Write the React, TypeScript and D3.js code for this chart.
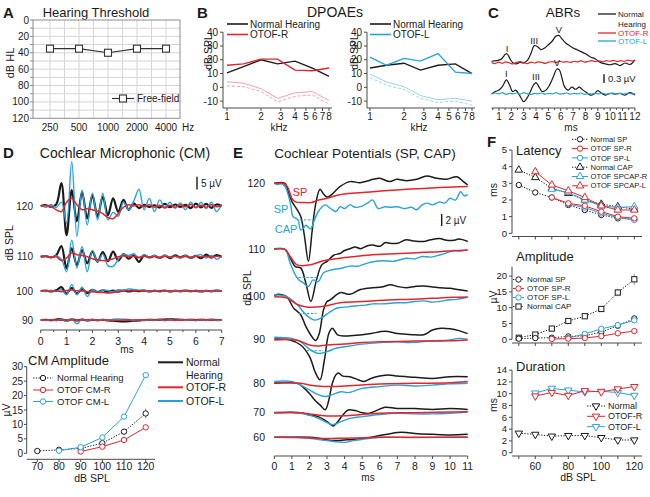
import React from 'react';
import * as d3 from 'd3';

const FONT = "'Liberation Sans', Arial, Helvetica, sans-serif";
const RED = '#e4252c';
const BLUE = '#28a3da';
const LRED = '#f3a3a6';
const LBLUE = '#98d3ef';
const INK = '#1b1b1b';
const AXC = '#4a4a4a';

// ---------------- Panel A: hearing threshold
const A_FREQS = ['250', '500', '1000', '2000', '4000'];
const A_THRESH = [35, 35, 40, 35, 35];
const A_YTICKS = [0, 20, 40, 60, 80, 100, 120];

// ---------------- Panel B: DPOAEs
const B_FREQS = [1, 1.4, 2, 2.8, 4, 5.7, 8];
const B_XTICKS = [1, 2, 3, 4, 5, 6, 7, 8];
const B_YTICKS = [-10, 0, 10, 20, 30, 40];
const B_NORMAL_R = [10.5, 15, 20, 17, 19, 14, 8];
const B_OTOF_R = [16, 17, 20.5, 20.5, 12.5, 12, 14];
const B_NOISE_R = [4, 3, -1, -8, -4, -3, -9.5];
const B_NOISE2_R = [1, 0.5, -3, -10.5, -6.5, -5.5, -12];
const B_NORMAL_L = [14, 16, 17.5, 12.5, 16, 17, 10];
const B_OTOF_L = [22, 16, 21, 19, 24.5, 11, 10];
const B_NOISE_L = [9.5, 4, 0.5, -6, -9, -8, -10];
const B_NOISE2_L = [7, 1.5, -1.5, -8, -11, -10, -13];

// ---------------- Panel C: ABRs (µV)
const ABR_XTICKS = d3.range(1, 13);
const ABR_T_TOP = [0.4, 0.8, 1.2, 1.5, 1.65, 1.9, 2.1, 2.4, 2.7, 3.0, 3.3, 3.6, 3.85, 4.1, 4.4, 4.7, 5.0, 5.3, 5.6, 5.85, 6.1, 6.4, 6.7, 7.0, 7.3, 7.6, 8.0, 8.4, 8.8, 9.2, 9.6, 10.0, 10.4, 10.8, 11.2, 11.6, 12];
const ABR_NORMAL_TOP = [0.06, 0.08, 0.14, 0.29, 0.32, 0.14, 0.02, -0.03, 0.02, 0, 0.09, 0.34, 0.6, 0.57, 0.46, 0.52, 0.63, 0.75, 0.92, 0.95, 0.83, 0.69, 0.6, 0.52, 0.46, 0.4, 0.32, 0.21, 0.14, 0.02, -0.03, -0.06, -0.02, -0.09, 0, -0.05, 0.11];
const ABR_T_BOT = [0.4, 0.7, 1.0, 1.3, 1.6, 1.85, 2.1, 2.35, 2.6, 2.8, 3.0, 3.2, 3.5, 3.8, 4.0, 4.2, 4.5, 4.8, 5.1, 5.4, 5.7, 5.9, 6.1, 6.3, 6.6, 6.9, 7.2, 7.5, 7.8, 8.1, 8.4, 8.7, 9.0, 9.3, 9.6, 10, 10.4, 10.8, 11.2, 11.6, 12];
const ABR_NORMAL_BOT = [-0.02, 0.06, 0.11, 0.25, 0.46, 0.29, 0.06, 0.11, -0.02, -0.17, -0.29, -0.21, 0.02, 0.29, 0.37, 0.25, 0.06, 0.11, 0.29, 0.57, 0.84, 0.8, 0.52, 0.23, 0.11, 0.21, 0.14, 0.21, 0.11, 0.02, -0.06, -0.02, 0.09, 0, -0.06, 0, -0.03, 0, -0.06, 0.02, -0.06];
const ABR_T_NOISE = d3.range(0.4, 12.0001, 0.29);
const ABR_OTOF_R = [0.02, -0.02, 0.03, -0.01, 0.04, 0, -0.03, 0.02, 0.05, 0.01, -0.02, 0.03, 0, 0.04, 0.02, -0.01, 0.03, 0.05, 0.02, 0.06, 0.03, 0.05, 0.02, 0.06, 0.04, 0.07, 0.03, 0.06, 0.08, 0.05, 0.07, 0.04, 0.08, 0.06, 0.09, 0.05, 0.08, 0.06, 0.1, 0.07, 0.09];
const ABR_OTOF_L = [-0.03, 0.01, -0.02, 0.02, -0.04, 0, -0.02, 0.01, -0.03, 0.02, -0.01, -0.04, 0, -0.02, 0.01, -0.03, 0, -0.02, 0.02, -0.03, -0.01, 0.01, -0.03, 0, -0.02, 0.01, -0.04, -0.01, -0.03, 0, -0.02, 0.01, -0.03, -0.01, 0.01, -0.02, 0, -0.03, 0.01, -0.02, 0];
const ABR_PEAKS = ['I', 'III', 'V'];
const ABR_PEAK_T_TOP = [1.65, 3.85, 5.85];
const ABR_PEAK_V_TOP = [0.32, 0.6, 0.95];
const ABR_PEAK_T_BOT = [1.6, 4.0, 5.7];
const ABR_PEAK_V_BOT = [0.46, 0.37, 0.84];

// ---------------- Panel D: cochlear microphonic (µV, sampled every 0.2 ms)
const CM_T = d3.range(0, 7.0001, 0.2);
const CM_XTICKS = d3.range(0, 8);
const CM_LEVELS = [120, 110, 100, 90];
const CM120_N = [0, 0.3, -0.3, 0.6, 9, -11.5, 6.3, -6, 5.5, -4.9, 4.3, -4.2, 3.7, -3.6, 3, -2.3, 2.4, -1.5, 1, -0.8, 0.5, -0.4, 0.3, -0.6, 0.8, -0.5, 0.6, -0.4, 0.5, -0.8, 0.9, -0.6, 0.8, -0.7, 0.6, 0];
const CM120_R = [0, 0.2, -0.2, -1.5, -2.2, 1.5, 3, 0.5, -1.5, -1, -1.5, -2, -3, -4.5, -5, -3, -0.5, 0.5, 0, 0.5, -0.3, 0.5, -0.5, 0.3, -0.8, 0.3, -0.5, 0.5, -0.3, 0.6, -0.5, 0.3, -0.5, 0.5, -0.3, 0.3];
const CM120_L = [0.3, -0.5, 0.6, -0.6, 1.5, -6.8, 17.5, -12, 6.3, -7.5, 5, -5.5, 5, -5.5, -2.5, -4, 1.5, -1.5, 2, 6.6, -1.5, 3, -2.2, 2.4, -0.5, 1.5, -1, 1.2, -1.5, 1.5, -0.8, 1.5, -1, 1.5, -2.2, 0.5];
const CM110_N = [0, 0.2, -0.3, 0.5, 4.2, -4.6, 3.3, -3.3, 2.6, -2.6, 2, -2, 1.8, -1.8, 2, -1.5, 1, -0.8, 0.5, -2, 0.5, -0.3, 0.3, -0.5, 0.4, -0.6, 0.5, -0.3, 0.4, -0.5, 0.3, -0.6, 0.8, -0.4, 0.6, 0];
const CM110_R = [0, 0.2, -0.2, 0, -1.5, -0.5, 1.5, 0.8, 0.5, 0, -0.8, -1.2, -1.5, -1.5, -0.8, 0, 0.3, 0, 0.2, -0.2, 0.2, -0.2, 0.1, -0.2, 0.2, -0.1, 0.2, -0.2, 0.1, -0.2, 0.2, -0.1, 0.2, -0.2, 0.2, 0];
const CM110_L = [0, 0.3, -0.3, 0.3, -1, -5.9, 6.6, -4.5, 4, -5.9, 2.5, -2, 1, -3.5, -3.8, -1, 1, 0.5, 1.2, -0.5, 0.8, -0.3, 0.6, -0.5, 0.5, -0.3, 0.2, -0.6, 0.4, -0.5, 0.3, 0.8, -0.5, 0.5, -1, 0.3];
const CM100_N = [0, 0.2, -0.2, 0.3, 1.5, -1, 1.2, -1, 0.7, -0.8, 0.5, -0.4, 0.3, -0.3, 0.2, -0.2, 0.2, -0.2, 0.1, -0.1, 0.2, -0.2, 0.1, -0.1, 0.2, -0.2, 0.1, -0.1, 0.2, -0.1, 0.1, -0.2, 0.1, -0.1, 0.2, 0];
const CM100_R = [0, 0.1, -0.1, 0, -0.3, 0.2, 0.4, 0.1, 0, -0.2, -0.3, -0.5, -0.6, -0.8, -0.6, -0.3, 0, 0.1, 0, 0.1, -0.1, 0.1, 0, -0.1, 0.1, 0, -0.1, 0.1, 0, -0.1, 0.1, 0, -0.1, 0.1, 0, 0];
const CM100_L = [0.2, -0.2, 0.3, -0.2, 0.5, -1.5, 2.5, -1.5, 1.5, -2.2, 0.5, -0.5, 0.3, 0.2, -0.3, 0.5, 0.3, 0.8, 0.6, 0.3, 0.4, -0.2, 0.3, -0.3, 0.2, -0.2, 0.3, -0.3, 0.2, -0.2, 0.3, -0.2, 0.2, -0.3, 0.3, 0];
const CM90_N = [0, 0.1, -0.1, 0.2, 0.3, -0.3, 0.3, -0.2, 0.2, -0.2, 0.1, -0.1, 0.1, -0.2, -0.3, -0.5, -0.6, -0.5, -0.3, -0.2, 0, 0.1, 0, 0.1, 0.2, 0.3, 0.2, 0.1, 0, 0.1, 0, 0.1, 0, 0.1, 0, 0];
const CM90_R = [0, 0, 0.1, 0, -0.1, 0.1, 0, -0.1, 0, 0.1, 0, -0.1, 0, 0, -0.1, -0.1, 0, 0.1, 0, 0, 0.1, 0, 0, 0.1, 0, 0, -0.1, 0, 0.1, 0, 0, 0.1, 0, 0, 0.1, 0];
const CM90_L = [0.2, -0.2, 0.2, -0.3, 0.3, -0.5, 0.5, -1.5, 0.4, -0.3, 0.3, -0.2, 0.2, -0.2, 0.3, 0.4, 0.3, 0.2, -0.2, 0.2, -0.3, 0.2, -0.2, 0.3, -0.3, 0.2, -0.2, 0.3, -0.2, 0.2, -0.3, 0.2, -0.2, 0.3, -0.2, 0];

// CM amplitude
const CMA_DB = [70, 80, 90, 100, 110, 120];
const CMA_NORMAL = [0.8, 1.2, 1.7, 3.5, 7.5, 13.8];
const CMA_NORMAL_ERR = [0, 0, 0, 0.4, 0.7, 1.8];
const CMA_R_DB = [90, 100, 110, 120];
const CMA_R = [0.6, 2.3, 4.6, 9];
const CMA_L_DB = [80, 90, 100, 110, 120];
const CMA_L = [0.9, 2.1, 5.5, 12.7, 27.1];
const CMA_YTICKS = [0, 5, 10, 15, 20, 25, 30];

// ---------------- Panel E: SP / CAP ([ms, µV])
const E_LEVELS = [120, 110, 100, 90, 80, 70, 60];
const E_XTICKS = d3.range(0, 12);
const E120_N = [[0,0],[0.6,0],[0.8,-1.5],[1.0,-3],[1.3,-4.4],[1.5,-5.5],[1.7,-8.5],[1.94,-13],[2.15,-8],[2.35,-3.5],[2.6,-1.0],[2.8,-1.8],[3.02,-2.3],[3.3,-1.8],[3.73,-0.55],[4.31,0.28],[4.88,0.1],[5.3,0.4],[5.63,0.67],[6.0,0.83],[6.58,0.28],[6.96,0.67],[7.53,0.44],[8.1,0.67],[8.67,1.2],[9.24,0.83],[9.8,0.67],[10.38,1.1],[10.76,0.28],[11,-0.28]];
const E120_R = [[0,0],[0.5,0],[0.75,-0.6],[1.0,-2.5],[1.2,-3.1],[1.6,-3.2],[2.1,-3.2],[2.5,-2.8],[3.0,-2.5],[3.7,-1.9],[4.6,-1.6],[5.6,-1.4],[6.5,-1.2],[7.5,-1.0],[8.5,-0.85],[9.4,-0.7],[10.2,-0.6],[11,-0.55]];
const E120_L = [[0,0],[0.2,-0.2],[0.4,-0.1],[0.6,-0.5],[0.8,-2],[0.95,-3.9],[1.05,-5.5],[1.2,-5.8],[1.35,-6.1],[1.5,-7.8],[1.65,-7.5],[1.8,-7.0],[2.05,-7.6],[2.3,-6],[2.5,-4.7],[2.9,-3.6],[3.2,-4.2],[3.5,-4.7],[3.75,-3.9],[4.0,-4.2],[4.3,-3.6],[4.6,-4.0],[4.9,-3.9],[5.3,-3.3],[5.6,-2.8],[5.9,-4.2],[6.3,-3.9],[6.6,-4.0],[7.0,-3.9],[7.4,-4.2],[7.8,-4.0],[8.1,-4.4],[8.4,-3.6],[8.7,-3.3],[9.0,-3.6],[9.4,-3.1],[9.7,-3.3],[10.0,-2.5],[10.3,-2.8],[10.6,-1.4],[10.8,-2.1],[11,-1.9]];
const E110_N = [[0,0.1],[0.6,0],[0.8,-0.8],[1.2,-2.9],[1.5,-3.1],[1.8,-5.7],[2.08,-8.7],[2.4,-5.1],[2.7,-2.6],[3.0,-2.0],[3.4,-0.95],[3.74,-0.7],[4.0,-0.2],[4.3,0.1],[4.6,0.4],[4.9,0.1],[5.3,0.6],[5.6,0.7],[6.0,0.5],[6.3,1.1],[6.6,1.0],[7.0,1.0],[7.5,1.6],[7.9,1.4],[8.5,1.3],[8.9,1.6],[9.4,1.8],[9.8,1.5],[10.2,1.5],[10.5,1.7],[11,1.3]];
const E110_R = [[0,0],[0.6,0],[0.9,-1.2],[1.3,-2.6],[2.0,-2.6],[2.8,-1.9],[3.7,-1.5],[4.6,-1.2],[5.6,-0.9],[6.5,-0.8],[7.5,-0.65],[8.5,-0.5],[9.4,-0.4],[10.2,-0.25],[11,-0.1]];
const E110_L = [[0,0],[0.6,0],[0.9,-2.3],[1.2,-4.3],[1.4,-5.1],[1.65,-5.6],[1.94,-6.2],[2.2,-5.1],[2.5,-5.4],[2.8,-3.9],[3.3,-3.4],[3.74,-3.2],[4.3,-2.8],[4.8,-2.8],[5.3,-2.3],[5.8,-2.0],[6.2,-1.9],[6.8,-2.0],[7.5,-1.5],[8.0,-1.6],[8.4,-1.2],[8.9,-1.3],[9.4,-0.95],[9.8,-0.6],[10.2,-0.2],[10.5,-0.3],[11,-0.1]];
const E100_N = [[0,0.2],[0.25,0.4],[0.7,0],[1.1,-1.9],[1.5,-3],[1.8,-5],[2.1,-6.5],[2.35,-7.3],[2.55,-6.2],[2.8,-2.2],[3.0,-0.8],[3.2,-0.5],[3.74,0.67],[4.3,0.4],[4.9,1.2],[5.6,1.5],[6.1,1.6],[6.6,2.0],[7.0,1.7],[7.5,1.5],[8.0,1.7],[8.5,1.8],[9.0,1.6],[9.4,1.5],[10.0,1.4],[10.4,1.2],[11,0.95]];
const E100_R = [[0,0],[0.7,-0.2],[1.3,-1.3],[1.84,-1.7],[2.8,-1.6],[3.74,-1.0],[4.7,-0.85],[5.6,-0.7],[6.5,-0.55],[7.5,-0.45],[8.5,-0.35],[9.4,-0.2],[10.2,-0.1],[11,-0.05]];
const E100_L = [[0,0.3],[0.5,0.2],[0.9,-0.3],[1.3,-1.3],[1.7,-2.7],[2.0,-3.5],[2.3,-3.9],[2.7,-3.5],[3.0,-2.9],[3.4,-2.1],[3.74,-1.8],[4.2,-1.7],[4.7,-1.5],[5.2,-1.4],[5.6,-1.2],[6.1,-1.2],[6.6,-1.1],[7.0,-1.0],[7.5,-1.0],[8.0,-0.8],[8.5,-0.7],[9.0,-0.9],[9.4,-0.8],[10.0,-0.5],[10.4,-0.45],[11,-0.05]];
const E90_N = [[0,0],[0.9,-0.15],[1.5,-1],[2.0,-2.9],[2.35,-5.7],[2.6,-6.8],[2.85,-3.5],[3.1,0.9],[3.3,1.8],[3.6,0.7],[4.0,0.5],[4.5,0.6],[5.0,0.7],[5.5,0.9],[6.3,1.3],[7.0,0.9],[7.5,0.8],[8.0,0.7],[8.5,0.7],[9.0,1.5],[9.5,1.8],[10.0,1.7],[10.5,1.4],[11,0.9]];
const E90_R = [[0,-0.15],[1.3,-0.2],[2.0,-1.0],[2.5,-1.15],[3.0,-1.0],[4.0,-0.85],[5.0,-0.6],[6.0,-0.45],[8.0,-0.35],[10.0,-0.3],[11,-0.15]];
const E90_L = [[0,0.3],[1.0,0.1],[1.5,-0.45],[2.0,-1.7],[2.5,-2.4],[3.0,-2.1],[3.5,-1.55],[4.0,-1.3],[5.0,-0.85],[6.0,-0.6],[7.0,-0.45],[7.5,-0.6],[8.0,-0.55],[9.0,-0.3],[10.0,-0.15],[10.5,0.1],[11,-0.05]];
const E80_N = [[0,0],[1.3,0],[1.6,-0.55],[2.0,-1.7],[2.3,-2.8],[2.6,-3.6],[2.9,-4.4],[3.1,-2.8],[3.3,0],[3.5,1.4],[3.65,1.7],[3.9,1.2],[4.3,1.1],[4.8,0.55],[5.1,0.3],[5.5,0.8],[6.0,1.2],[6.5,1.4],[7.0,1.2],[8.0,1.0],[9.0,0.8],[10.0,1.1],[11,1.1]];
const E80_R = [[0,0.1],[1.5,0],[2.0,-0.3],[2.5,-0.45],[3.0,-0.55],[4.0,-0.45],[5.0,-0.3],[6.0,-0.1],[8.0,0],[10.0,0.1],[11,0.3]];
const E80_L = [[0,0.3],[1.0,0.3],[1.5,-0.3],[2.0,-1.1],[2.5,-1.9],[2.9,-2.2],[3.3,-1.9],[3.8,-1.4],[4.2,-1.55],[5.0,-0.85],[6.0,-0.55],[7.0,-0.3],[8.0,-0.45],[9.0,-0.3],[10.0,-0.1],[11,0]];
const E70_N = [[0,0],[1.5,0],[2.0,-0.4],[2.5,-0.65],[3.0,-1.5],[3.35,-2.2],[3.6,-1.5],[3.9,-0.4],[4.2,0.45],[4.6,0.35],[5.0,0],[5.4,-0.1],[5.8,0.35],[6.3,0.9],[7.0,0.7],[8.0,0.7],[9.0,0.55],[10.0,0.7],[11,0.55]];
const E70_R = [[0,0],[1.5,0],[2.0,-0.2],[3.0,-0.55],[4.0,-0.5],[5.0,-0.3],[6.0,-0.1],[8.0,0],[11,0.15]];
const E70_L = [[0,0.05],[1.5,-0.1],[2.0,-0.4],[2.5,-0.95],[3.0,-1.65],[3.3,-2.0],[3.8,-1.5],[4.3,-0.95],[5.0,-0.65],[6.0,-0.3],[7.0,-0.1],[8.0,-0.2],[9.0,-0.2],[10.0,-0.1],[11,0.1]];
const E60_N = [[0,0],[2.0,0],[2.5,-0.15],[3.0,-0.45],[3.5,-0.55],[4.0,-0.45],[4.5,-0.35],[5.0,-0.15],[5.5,0],[6.0,0.3],[6.5,0.55],[7.0,0.8],[7.5,0.8],[8.0,0.65],[9.0,0.5],[10.0,0.4],[11,0.5]];
const E60_R = [[0,0],[2.0,-0.1],[3.0,-0.2],[4.0,-0.15],[5.0,-0.1],[6.0,0],[11,0]];
const E60_L = [[0,0],[1.0,0.1],[2.0,-0.15],[3.0,-0.55],[4.0,-0.85],[4.5,-0.55],[5.0,-0.35],[6.0,0],[8.0,-0.05],[11,0.05]];
const E_SP_LEVEL = [-6.1, -4.7, -2.8, -1.95];
const E_SP_T0 = [1.46, 1.37, 1.4, 1.84];
const E_SP_T1 = [2.37, 2.41, 2.4, 2.79];

// ---------------- Panel F
const F_XTICKS = [50, 60, 70, 80, 90, 100, 110, 120];
const F_XLABELS = [60, 80, 100, 120];
const F_DB = [50, 60, 70, 80, 90, 100, 110, 120];
const LAT_NORMAL_SP = [2.9, 2.45, 2.15, 1.7, 1.4, 1.1, 0.9, 0.85];
const LAT_NORMAL_CAP = [3.8, 3.35, 2.7, 2.4, 2.0, 1.75, 1.6, 1.45];
const LAT_SP_R_DB = [70, 80, 90, 100, 110, 120];
const LAT_SP_R = [2.15, 1.8, 1.65, 1.3, 1.0, 0.9];
const LAT_SP_L_DB = [80, 90, 100, 110, 120];
const LAT_SP_L = [1.75, 1.55, 1.2, 0.95, 0.8];
const LAT_SPCAP_R_DB = [70, 80, 90, 100, 110, 120];
const LAT_SPCAP_R = [2.65, 2.45, 2.0, 1.65, 1.55, 1.6];
const LAT_SPCAP_L_DB = [60, 70, 80, 90, 100, 110, 120];
const LAT_SPCAP_L = [3.7, 2.9, 2.55, 2.15, 1.65, 1.4, 1.4];
const LAT_YTICKS = [0, 1, 2, 3, 4, 5];
const AMP_NORMAL_SP = [0.2, 0.4, 0.5, 0.9, 1.1, 2.3, 4.3, 6.6];
const AMP_NORMAL_CAP = [0.5, 1.5, 3.4, 5.8, 7.3, 9.6, 14.8, 19];
const AMP_CAP_ERR = [0, 0, 0, 0, 0, 0.8, 1.2, 1.8];
const AMP_SP_R_DB = [70, 80, 90, 100, 110, 120];
const AMP_SP_R = [0.1, 0.2, 0.4, 1.0, 1.9, 2.6];
const AMP_SP_L_DB = [80, 90, 100, 110, 120];
const AMP_SP_L = [0.4, 1.7, 3.3, 4.5, 6.0];
const AMP_YTICKS = [0, 5, 10, 15, 20];
const DUR_NORMAL = [3.3, 3.1, 2.8, 2.9, 2.9, 2.55, 2.15, 2.15];
const DUR_RL_DB = [60, 70, 80, 90, 100, 110, 120];
const DUR_R = [9.6, 10.2, 9.7, 10.5, 10.3, 10.8, 11.2];
const DUR_L = [10.1, 10.9, 10.6, 10.3, 10.4, 10.2, 9.7];
const DUR_YTICKS = [0, 2, 4, 6, 8, 10, 12, 14];

// ---------------- helpers
function Marker({ x, y, kind, color }: any) {
  if (kind === 'circle') return <circle cx={x} cy={y} r={2.7} fill="#fff" stroke={color} strokeWidth={1} />;
  if (kind === 'square') return <rect x={x - 2.6} y={y - 2.6} width={5.2} height={5.2} fill="#fff" stroke={color} strokeWidth={1} />;
  const p = d3.symbol().type(d3.symbolTriangle).size(24)() as string;
  return <path d={p} transform={`translate(${x},${y})${kind === 'down' ? ' rotate(180)' : ''}`} fill="#fff" stroke={color} strokeWidth={1} />;
}

function Series({ xs, ys, x, y, color, dotted, kind, err }: any) {
  const ln = d3.line<number>().x((_, i) => x(xs[i])).y((d) => y(d));
  return (
    <g>
      {err && ys.map((v: number, i: number) => err[i] > 0 ? (
        <line key={'e' + i} x1={x(xs[i])} x2={x(xs[i])} y1={y(v - err[i])} y2={y(v + err[i])} stroke="#999" strokeWidth={1} />
      ) : null)}
      <path d={ln(ys) as string} fill="none" stroke={color} strokeWidth={1} strokeDasharray={dotted ? '1.3,1.5' : undefined} />
      {ys.map((v: number, i: number) => <Marker key={i} x={x(xs[i])} y={y(v)} kind={kind} color={color} />)}
    </g>
  );
}

function LegRow({ x0, x1, y, color, dotted, kind, label, size, tx, width = 1, textColor = INK }: any) {
  return (
    <g>
      <line x1={x0} x2={x1} y1={y} y2={y} stroke={color} strokeWidth={width} strokeDasharray={dotted ? '1.3,1.5' : undefined} />
      {kind && <Marker x={(x0 + x1) / 2} y={y} kind={kind} color={color} />}
      <text x={tx} y={y} dy="0.35em" fontSize={size} fill={textColor}>{label}</text>
    </g>
  );
}

// ---------------- Panel A
function PanelA() {
  const x = d3.scalePoint<string>().domain(A_FREQS).range([50, 166]);
  const y = d3.scaleLinear().domain([0, 120]).range([20, 118.3]);
  const L = 33, R = 180;
  const xs = A_FREQS.map((f) => x(f) as number);
  const mids = xs.slice(1).map((v, i) => (v + xs[i]) / 2);
  const grid = d3.range(10, 120, 10);
  const ln = d3.line<number>().x((_, i) => xs[i]).y((d) => y(d));
  return (
    <g>
      <text x={3} y={18} fontSize={15} fontWeight="bold">A</text>
      <text x={96} y={17} fontSize={13} textAnchor="middle">Hearing Threshold</text>
      <rect x={L} y={y(0)} width={R - L} height={y(120) - y(0)} fill="#fff" />
      {grid.map((g) => <line key={'h' + g} x1={L} x2={R} y1={y(g)} y2={y(g)} stroke="#d4d4d4" />)}
      {[...xs, ...mids].map((v, i) => <line key={'v' + i} x1={v} x2={v} y1={y(0)} y2={y(120)} stroke="#d4d4d4" />)}
      <rect x={L} y={y(0)} width={R - L} height={y(120) - y(0)} fill="none" stroke="#8c8c8c" />
      {d3.range(0, 121, 10).map((t) => <line key={'t' + t} x1={L - 3} x2={L} y1={y(t)} y2={y(t)} stroke="#8c8c8c" />)}
      {A_YTICKS.map((t) => <text key={t} x={29} y={y(t)} dy="0.35em" textAnchor="end" fontSize={10}>{t}</text>)}
      {A_FREQS.map((f) => <text key={f} x={x(f)} y={131} textAnchor="middle" fontSize={10}>{f}</text>)}
      <text x={182} y={131} fontSize={10}>Hz</text>
      <text transform="translate(10,63) rotate(-90)" dy="0.35em" textAnchor="middle" fontSize={11}>dB HL</text>
      <path d={ln(A_THRESH) as string} fill="none" stroke="#333" strokeWidth={1.2} />
      {A_THRESH.map((v, i) => <rect key={i} x={xs[i] - 3.5} y={y(v) - 3.5} width={7} height={7} fill="#fff" stroke="#333" strokeWidth={1.1} />)}
      <line x1={112} x2={134} y1={98.5} y2={98.5} stroke="#333" strokeWidth={1.2} />
      <rect x={119.5} y={95} width={7} height={7} fill="#fff" stroke="#333" strokeWidth={1.1} />
      <text x={137} y={98.5} dy="0.35em" fontSize={10}>Free-field</text>
    </g>
  );
}

// ---------------- Panel B
function DpSub(p: any) {
  const x = d3.scaleLog().domain([1, 8]).range([p.r0, p.r1]);
  const y = d3.scaleLinear().domain([-15, 40]).range([108, 32.2]);
  const ln = d3.line<number>().x((_, i) => x(B_FREQS[i])).y((d) => y(d));
  return (
    <g>
      <line x1={p.ax} x2={p.ax} y1={108} y2={y(40)} stroke={AXC} />
      <line x1={p.ax} x2={p.r1 + 3} y1={108} y2={108} stroke={AXC} />
      {B_YTICKS.map((t) => (
        <g key={t}>
          <line x1={p.ax - 3} x2={p.ax} y1={y(t)} y2={y(t)} stroke={AXC} />
          <text x={p.ax - 5} y={y(t)} dy="0.35em" textAnchor="end" fontSize={10}>{t}</text>
        </g>
      ))}
      {B_XTICKS.map((t) => (
        <g key={t}>
          <line x1={x(t)} x2={x(t)} y1={108} y2={111} stroke={AXC} />
          <text x={x(t)} y={119.5} textAnchor="middle" fontSize={10}>{t}</text>
        </g>
      ))}
      <text x={p.kx} y={131} textAnchor="middle" fontSize={10}>kHz</text>
      <text transform={`translate(${p.yl},52) rotate(-90)`} dy="0.35em" textAnchor="middle" fontSize={10.5}>dB SPL</text>
      <path d={ln(p.n2) as string} fill="none" stroke={p.lc} strokeWidth={1} strokeDasharray="3,2" />
      <path d={ln(p.n1) as string} fill="none" stroke={p.lc} strokeWidth={1} />
      <path d={ln(p.normal) as string} fill="none" stroke={INK} strokeWidth={1.4} />
      <path d={ln(p.otof) as string} fill="none" stroke={p.c} strokeWidth={1.4} />
      <LegRow x0={p.r0} x1={p.r0 + 21} y={24} color={INK} width={1.6} label="Normal Hearing" size={10} tx={p.r0 + 23} />
      <LegRow x0={p.r0} x1={p.r0 + 21} y={34.5} color={p.c} width={1.6} label={p.label} size={10} tx={p.r0 + 23} />
    </g>
  );
}

function PanelB() {
  return (
    <g>
      <text x={197} y={18} fontSize={15} fontWeight="bold">B</text>
      <text x={335} y={17} fontSize={14} textAnchor="middle">DPOAEs</text>
      <DpSub r0={227} r1={329} ax={223} kx={279} yl={208} normal={B_NORMAL_R} otof={B_OTOF_R} n1={B_NOISE_R} n2={B_NOISE2_R} c={RED} lc={LRED} label="OTOF-R" />
      <DpSub r0={370} r1={472} ax={367} kx={419} yl={354} normal={B_NORMAL_L} otof={B_OTOF_L} n1={B_NOISE_L} n2={B_NOISE2_L} c={BLUE} lc={LBLUE} label="OTOF-L" />
    </g>
  );
}

// ---------------- Panel C
function PanelC() {
  const x = d3.scaleLinear().domain([0, 12]).range([486.6, 634.9]);
  const yT = d3.scaleLinear().domain([0, 1]).range([63, 34]);
  const yB = d3.scaleLinear().domain([0, 1]).range([93.3, 64.3]);
  const mk = (ts: number[], y: any) => d3.line<number>().x((_, i) => x(ts[i])).y((d) => y(d)).curve(d3.curveCatmullRom.alpha(0.5));
  const minor = d3.range(0.5, 12.01, 0.5);
  return (
    <g>
      <text x={488} y={18} fontSize={15} fontWeight="bold">C</text>
      <text x={563} y={17} fontSize={13.5} textAnchor="middle">ABRs</text>
      <path d={mk(ABR_T_TOP, yT)(ABR_NORMAL_TOP) as string} fill="none" stroke={INK} strokeWidth={1.2} />
      <path d={mk(ABR_T_NOISE, yT)(ABR_OTOF_R) as string} fill="none" stroke={RED} strokeWidth={1.2} />
      <path d={mk(ABR_T_BOT, yB)(ABR_NORMAL_BOT) as string} fill="none" stroke={INK} strokeWidth={1.2} />
      <path d={mk(ABR_T_NOISE, yB)(ABR_OTOF_L) as string} fill="none" stroke={BLUE} strokeWidth={1.2} />
      {ABR_PEAKS.map((l, i) => <text key={'t' + l} x={x(ABR_PEAK_T_TOP[i])} y={yT(ABR_PEAK_V_TOP[i]) - 2} textAnchor="middle" fontSize={9.5}>{l}</text>)}
      {ABR_PEAKS.map((l, i) => <text key={'b' + l} x={x(ABR_PEAK_T_BOT[i])} y={yB(ABR_PEAK_V_BOT[i]) - 2.5} textAnchor="middle" fontSize={9.5}>{l}</text>)}
      <line x1={604} x2={604} y1={yB(0) - 10.3} y2={yB(0) - 10.3 - (yB(0) - yB(0.3))} stroke={INK} strokeWidth={1.4} />
      <text x={608} y={78.5} dy="0.35em" fontSize={9.5}>0.3 µV</text>
      <line x1={x(0.4)} x2={x(12)} y1={108} y2={108} stroke={AXC} />
      {minor.map((t) => <line key={t} x1={x(t)} x2={x(t)} y1={108} y2={Number.isInteger(t) ? 111 : 110} stroke={AXC} />)}
      {ABR_XTICKS.map((t) => <text key={t} x={x(t)} y={120} textAnchor="middle" fontSize={10}>{t}</text>)}
      <text x={571} y={131} textAnchor="middle" fontSize={10}>ms</text>
      <LegRow x0={598} x1={616} y={14} color={INK} width={1.3} label="Normal" size={8} tx={618} />
      <text x={618} y={24} dy="0.35em" fontSize={8}>Hearing</text>
      <LegRow x0={598} x1={616} y={33} color={RED} width={1.3} label="OTOF-R" size={8} tx={618} textColor={RED} />
      <LegRow x0={598} x1={616} y={41} color={BLUE} width={1.3} label="OTOF-L" size={8} tx={618} textColor={BLUE} />
    </g>
  );
}

// ---------------- Panel D
const D_ROW_Y = [206, 256.7, 291, 320];
const D_PX_PER_UV = 2.54;
function PanelD() {
  const x = d3.scaleLinear().domain([0, 7]).range([40.7, 221.7]);
  const rows = [
    [CM120_N, CM120_L, CM120_R],
    [CM110_N, CM110_L, CM110_R],
    [CM100_N, CM100_L, CM100_R],
    [CM90_N, CM90_L, CM90_R],
  ];
  const minor = d3.range(0, 7.01, 0.5);
  const xa = d3.scaleLinear().domain([70, 120]).range([37.3, 145.7]);
  const ya = d3.scaleLinear().domain([0, 30]).range([453.3, 366.7]);
  return (
    <g>
      <text x={3} y={158} fontSize={15} fontWeight="bold">D</text>
      <text x={125} y={158} fontSize={14} textAnchor="middle">Cochlear Microphonic (CM)</text>
      {rows.map((r, k) => {
        const y = d3.scaleLinear().domain([0, 1]).range([D_ROW_Y[k], D_ROW_Y[k] - D_PX_PER_UV]);
        const ln = d3.line<number>().x((_, i) => x(CM_T[i])).y((d) => y(d)).curve(d3.curveCatmullRom.alpha(0.5));
        return (
          <g key={k}>
            <text x={33} y={y(0)} dy="0.35em" textAnchor="end" fontSize={10}>{CM_LEVELS[k]}</text>
            <path d={ln(r[0]) as string} fill="none" stroke={INK} strokeWidth={2.2} />
            <path d={ln(r[1]) as string} fill="none" stroke={BLUE} strokeWidth={1.4} />
            <path d={ln(r[2]) as string} fill="none" stroke={RED} strokeWidth={1.5} />
          </g>
        );
      })}
      <line x1={197} x2={197} y1={189.4} y2={189.4 - 5 * D_PX_PER_UV} stroke={INK} strokeWidth={1.4} />
      <text x={201} y={183} dy="0.35em" fontSize={10}>5 µV</text>
      <text transform="translate(9,243) rotate(-90)" dy="0.35em" textAnchor="middle" fontSize={10.5}>dB SPL</text>
      <line x1={x(0)} x2={x(7)} y1={330} y2={330} stroke={AXC} />
      {minor.map((t) => <line key={t} x1={x(t)} x2={x(t)} y1={330} y2={Number.isInteger(t) ? 333 : 332} stroke={AXC} />)}
      {CM_XTICKS.map((t) => <text key={t} x={x(t)} y={345} textAnchor="middle" fontSize={10.5}>{t}</text>)}
      <text x={127} y={353} textAnchor="middle" fontSize={10}>ms</text>

      <text x={28} y={365} fontSize={13}>CM Amplitude</text>
      <line x1={26.7} x2={26.7} y1={ya(0)} y2={ya(30)} stroke={AXC} />
      <line x1={26.7} x2={155} y1={459.3} y2={459.3} stroke={AXC} />
      {CMA_YTICKS.map((t) => (
        <g key={t}>
          <line x1={24} x2={26.7} y1={ya(t)} y2={ya(t)} stroke={AXC} />
          <text x={23} y={ya(t)} dy="0.35em" textAnchor="end" fontSize={10}>{t}</text>
        </g>
      ))}
      {CMA_DB.map((t) => (
        <g key={t}>
          <line x1={xa(t)} x2={xa(t)} y1={459.3} y2={462} stroke={AXC} />
          <text x={xa(t)} y={470} textAnchor="middle" fontSize={10.5}>{t}</text>
        </g>
      ))}
      <text x={92} y={482} textAnchor="middle" fontSize={10.5}>dB SPL</text>
      <text transform="translate(6,410) rotate(-90)" dy="0.35em" textAnchor="middle" fontSize={10.5}>µV</text>
      <Series xs={CMA_DB} ys={CMA_NORMAL} x={xa} y={ya} color={INK} dotted kind="circle" err={CMA_NORMAL_ERR} />
      <Series xs={CMA_R_DB} ys={CMA_R} x={xa} y={ya} color={RED} kind="circle" />
      <Series xs={CMA_L_DB} ys={CMA_L} x={xa} y={ya} color={BLUE} kind="circle" />
      <LegRow x0={33} x1={53} y={378} color={INK} dotted kind="circle" label="Normal Hearing" size={9.5} tx={57} />
      <LegRow x0={33} x1={53} y={390} color={RED} kind="circle" label="OTOF CM-R" size={9.5} tx={57} />
      <LegRow x0={33} x1={53} y={401.5} color={BLUE} kind="circle" label="OTOF CM-L" size={9.5} tx={57} />
      <LegRow x0={158} x1={183} y={362.3} color={INK} width={2} label="Normal" size={10.5} tx={186} />
      <text x={186} y={375} dy="0.35em" fontSize={10.5}>Hearing</text>
      <LegRow x0={158} x1={183} y={387.3} color={RED} width={2} label="OTOF-R" size={10.5} tx={186} />
      <LegRow x0={158} x1={183} y={401} color={BLUE} width={2} label="OTOF-L" size={10.5} tx={186} />
    </g>
  );
}

// ---------------- Panel E
const E_ROW_Y = [183.3, 249.3, 296.7, 339, 383.3, 412.7, 437.3];
const E_PX_PER_UV = 6;
function PanelE() {
  const x = d3.scaleLinear().domain([0, 11]).range([274.3, 467.7]);
  const rows = [
    [E120_N, E120_L, E120_R],
    [E110_N, E110_L, E110_R],
    [E100_N, E100_L, E100_R],
    [E90_N, E90_L, E90_R],
    [E80_N, E80_L, E80_R],
    [E70_N, E70_L, E70_R],
    [E60_N, E60_L, E60_R],
  ];
  return (
    <g>
      <text x={233} y={158} fontSize={15} fontWeight="bold">E</text>
      <text x={365} y={158} fontSize={13.5} textAnchor="middle">Cochlear Potentials (SP, CAP)</text>
      {rows.map((r, k) => {
        const y = d3.scaleLinear().domain([0, 1]).range([E_ROW_Y[k], E_ROW_Y[k] - E_PX_PER_UV]);
        const ln = d3.line<number[]>().x((d) => x(d[0])).y((d) => y(d[1])).curve(d3.curveCatmullRom.alpha(0.5));
        return (
          <g key={k}>
            <text x={265} y={y(0)} dy="0.35em" textAnchor="end" fontSize={10.5}>{E_LEVELS[k]}</text>
            <path d={ln(r[0] as any) as string} fill="none" stroke={INK} strokeWidth={1.5} />
            <path d={ln(r[1] as any) as string} fill="none" stroke={BLUE} strokeWidth={1.4} />
            <path d={ln(r[2] as any) as string} fill="none" stroke={RED} strokeWidth={1.5} />
            {k < E_SP_LEVEL.length && (
              <line x1={x(E_SP_T0[k])} x2={x(E_SP_T1[k])} y1={y(E_SP_LEVEL[k])} y2={y(E_SP_LEVEL[k])} stroke={BLUE} strokeWidth={1} strokeDasharray="2.5,1.5" />
            )}
          </g>
        );
      })}
      <text x={300} y={192.5} dy="0.35em" textAnchor="middle" fontSize={11} fill={RED}>SP</text>
      <text x={281} y={209} dy="0.35em" textAnchor="middle" fontSize={11} fill={BLUE}>SP</text>
      <text x={286} y={229} dy="0.35em" textAnchor="middle" fontSize={11} fill={BLUE}>CAP</text>
      <line x1={441.7} x2={441.7} y1={226} y2={226 - 2 * E_PX_PER_UV} stroke={INK} strokeWidth={1.4} />
      <text x={445.5} y={220} dy="0.35em" fontSize={10}>2 µV</text>
      <text transform="translate(247,288) rotate(-90)" dy="0.35em" textAnchor="middle" fontSize={10.5}>dB SPL</text>
      <line x1={x(0)} x2={x(11)} y1={456} y2={456} stroke={AXC} />
      {E_XTICKS.map((t) => (
        <g key={t}>
          <line x1={x(t)} x2={x(t)} y1={456} y2={459} stroke={AXC} />
          <text x={x(t)} y={470} textAnchor="middle" fontSize={10.5}>{t}</text>
        </g>
      ))}
      <text x={368} y={481} textAnchor="middle" fontSize={10}>ms</text>
    </g>
  );
}

// ---------------- Panel F
function FFrame({ x, y, ticks, top, axisY, title, titleY, ylab, ylabY, showX }: any) {
  const AX = 512;
  return (
    <g>
      <text x={516} y={titleY} fontSize={13}>{title}</text>
      <line x1={AX} x2={AX} y1={y(0)} y2={y(top)} stroke={AXC} />
      {ticks.map((t: number) => (
        <g key={t}>
          <line x1={AX - 3} x2={AX} y1={y(t)} y2={y(t)} stroke={AXC} />
          <text x={AX - 5} y={y(t)} dy="0.35em" textAnchor="end" fontSize={9.5}>{t}</text>
        </g>
      ))}
      <line x1={AX} x2={642} y1={axisY} y2={axisY} stroke={AXC} />
      {F_XTICKS.map((t) => <line key={t} x1={x(t)} x2={x(t)} y1={axisY} y2={axisY + 3} stroke={AXC} />)}
      {showX && F_XLABELS.map((t) => <text key={t} x={x(t)} y={469.5} textAnchor="middle" fontSize={10.5}>{t}</text>)}
      <text transform={`translate(493,${ylabY}) rotate(-90)`} dy="0.35em" textAnchor="middle" fontSize={10.5}>{ylab}</text>
    </g>
  );
}

function PanelF() {
  const x = d3.scaleLinear().domain([50, 120]).range([518.8, 634.3]);
  const yL = d3.scaleLinear().domain([0, 5]).range([233.3, 150]);
  const yA = d3.scaleLinear().domain([0, 20]).range([339.3, 276.1]);
  const yD = d3.scaleLinear().domain([0, 14]).range([452.7, 370.1]);
  const lg = { x0: 572, x1: 588, tx: 590.5, size: 7.6 };
  return (
    <g>
      <text x={487} y={147} fontSize={15} fontWeight="bold">F</text>
      <FFrame x={x} y={yL} ticks={LAT_YTICKS} top={5} axisY={236.5} title="Latency" titleY={155} ylab="ms" ylabY={190} />
      <Series xs={F_DB} ys={LAT_NORMAL_SP} x={x} y={yL} color={INK} dotted kind="circle" />
      <Series xs={F_DB} ys={LAT_NORMAL_CAP} x={x} y={yL} color={INK} dotted kind="up" />
      <Series xs={LAT_SP_L_DB} ys={LAT_SP_L} x={x} y={yL} color={BLUE} kind="circle" />
      <Series xs={LAT_SP_R_DB} ys={LAT_SP_R} x={x} y={yL} color={RED} kind="circle" />
      <Series xs={LAT_SPCAP_R_DB} ys={LAT_SPCAP_R} x={x} y={yL} color={BLUE} kind="up" />
      <Series xs={LAT_SPCAP_L_DB} ys={LAT_SPCAP_L} x={x} y={yL} color={RED} kind="up" />
      <LegRow {...lg} y={139.3} color={INK} dotted kind="circle" label="Normal SP" />
      <LegRow {...lg} y={148.6} color={RED} kind="circle" label="OTOF SP-R" />
      <LegRow {...lg} y={157.9} color={BLUE} kind="circle" label="OTOF SP-L" />
      <LegRow {...lg} y={167.2} color={INK} dotted kind="up" label="Normal CAP" />
      <LegRow {...lg} y={176.5} color={BLUE} kind="up" label="OTOF SPCAP-R" />
      <LegRow {...lg} y={185.8} color={RED} kind="up" label="OTOF SPCAP-L" />

      <FFrame x={x} y={yA} ticks={AMP_YTICKS} top={23} axisY={343} title="Amplitude" titleY={261} ylab="µV" ylabY={297} />
      <Series xs={F_DB} ys={AMP_NORMAL_CAP} x={x} y={yA} color={INK} dotted kind="square" err={AMP_CAP_ERR} />
      <Series xs={F_DB} ys={AMP_NORMAL_SP} x={x} y={yA} color={INK} dotted kind="circle" />
      <Series xs={AMP_SP_L_DB} ys={AMP_SP_L} x={x} y={yA} color={BLUE} kind="circle" />
      <Series xs={AMP_SP_R_DB} ys={AMP_SP_R} x={x} y={yA} color={RED} kind="circle" />
      <LegRow x0={513} x1={524} tx={527} size={8} y={279.5} color={INK} dotted kind="circle" label="Normal SP" />
      <LegRow x0={513} x1={524} tx={527} size={8} y={288.5} color={RED} kind="circle" label="OTOF SP-R" />
      <LegRow x0={513} x1={524} tx={527} size={8} y={297.5} color={BLUE} kind="circle" label="OTOF SP-L" />
      <LegRow x0={513} x1={524} tx={527} size={8} y={306.5} color={INK} dotted kind="square" label="Normal CAP" />

      <FFrame x={x} y={yD} ticks={DUR_YTICKS} top={14} axisY={456} title="Duration" titleY={371} ylab="ms" ylabY={405} showX />
      <Series xs={F_DB} ys={DUR_NORMAL} x={x} y={yD} color={INK} dotted kind="down" />
      <Series xs={DUR_RL_DB} ys={DUR_L} x={x} y={yD} color={BLUE} kind="down" />
      <Series xs={DUR_RL_DB} ys={DUR_R} x={x} y={yD} color={RED} kind="down" />
      <LegRow x0={587} x1={605} tx={608} size={9} y={406} color={INK} dotted kind="down" label="Normal" />
      <LegRow x0={587} x1={605} tx={608} size={9} y={416.3} color={RED} kind="down" label="OTOF-R" />
      <LegRow x0={587} x1={605} tx={608} size={9} y={426.7} color={BLUE} kind="down" label="OTOF-L" />
      <text x={578} y={481} textAnchor="middle" fontSize={10.5}>dB SPL</text>
    </g>
  );
}

export default function App() {
  return (
    <svg width={650} height={497} viewBox="0 0 650 497" fontFamily={FONT} fill={INK}
      style={{ position: 'absolute', left: 0, top: 0, background: '#fff', display: 'block' }}>
      <rect width={650} height={497} fill="#fff" />
      <PanelA />
      <PanelB />
      <PanelC />
      <PanelD />
      <PanelE />
      <PanelF />
    </svg>
  );
}
